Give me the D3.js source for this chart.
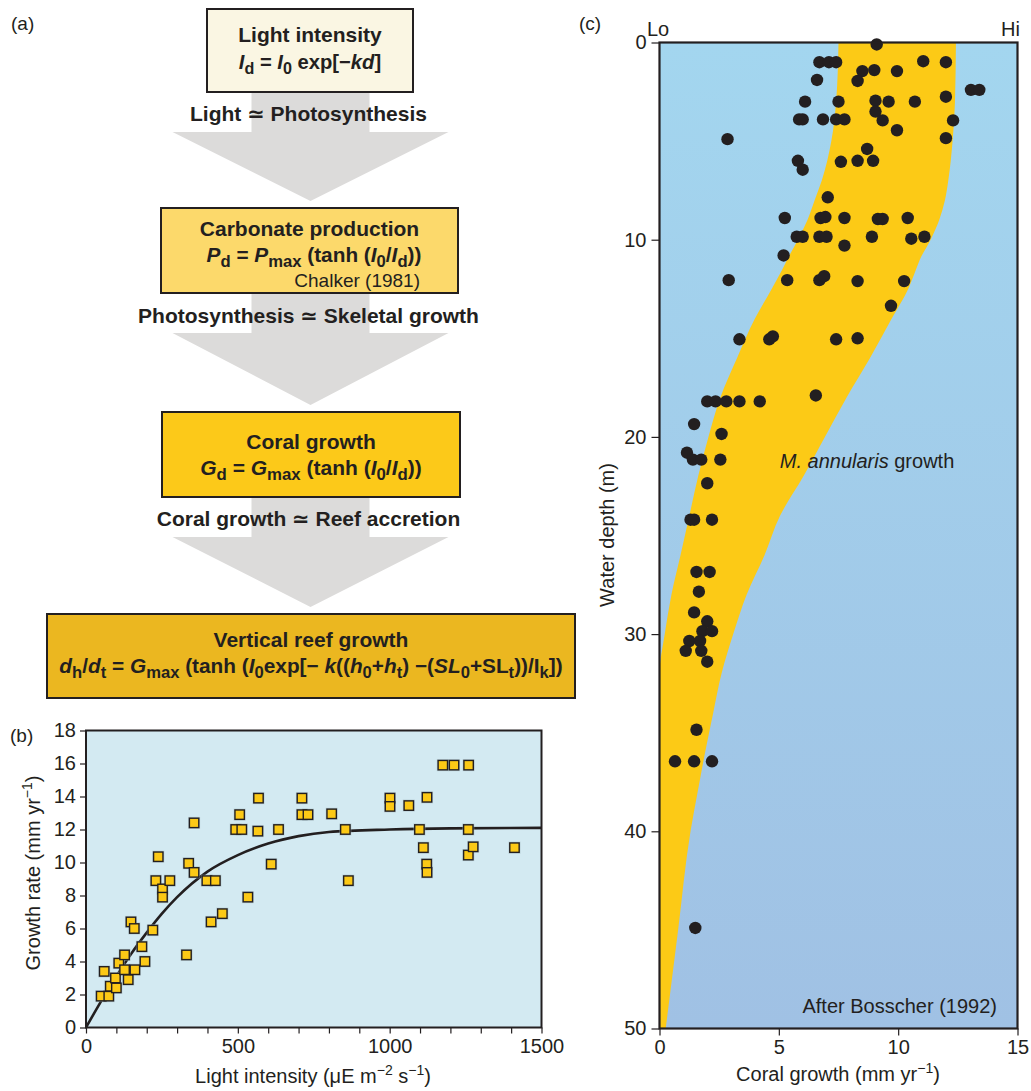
<!DOCTYPE html>
<html>
<head>
<meta charset="utf-8">
<script src="https://cdn.jsdelivr.net/npm/d3@7"></script>
<style>
  body { margin: 0; background: #fff; }
  svg { display: block; font-family: "Liberation Sans", Arial, "DejaVu Sans", sans-serif; }
  text { fill: #231f20; }
</style>
</head>
<body>
<script>
// ---------- (a) flow chart text ----------
const boxTitles   = ["Light intensity", "Carbonate production", "Coral growth", "Vertical reef growth"];
const boxFormulas = [
  "*I*_d_ = *I*_0_ exp[−*kd*]",
  "*P*_d_ = *P*_max_ (tanh (*I*_0_/*I*_d_))",
  "*G*_d_ = *G*_max_ (tanh (*I*_0_/*I*_d_))",
  "*d*_h_/*d*_t_ = *G*_max_ (tanh (*I*_0_exp[− *k*((*h*_0_+*h*_t_) −(*SL*_0_+SL_t_))/I_k_])"
];
const boxFills    = ["#faf6e3", "#fcd96b", "#fcc919", "#ebb720"];
const linkLabels  = ["Light ≃ Photosynthesis", "Photosynthesis ≃ Skeletal growth", "Coral growth ≃ Reef accretion"];
const citationA   = "Chalker (1981)";

// ---------- (b) growth rate vs light intensity ----------
const lightTicks = [0, 500, 1000, 1500];
const rateTicks  = [0, 2, 4, 6, 8, 10, 12, 14, 16, 18];
const obsLight = [50, 60, 75, 80, 100, 97, 108, 127, 127, 139, 148, 159, 161, 184, 194, 220, 230, 238, 252, 252,
                  276, 331, 338, 356, 356, 398, 426, 412, 449, 493, 513, 506, 533, 568, 566, 610, 634, 711, 711, 731,
                  809, 854, 864, 1001, 1001, 1063, 1098, 1111, 1123, 1122, 1123, 1175, 1212, 1260, 1259, 1259, 1275, 1411];
const obsRate  = [1.9, 3.4, 1.9, 2.5, 2.4, 3.0, 3.9, 4.4, 3.5, 2.9, 6.4, 6.0, 3.5, 4.9, 4.0, 5.9, 8.9, 10.35, 8.4, 7.9,
                  8.9, 4.4, 9.95, 12.4, 9.4, 8.9, 8.9, 6.4, 6.9, 12.0, 12.0, 12.9, 7.9, 13.9, 11.9, 9.9, 12.0, 13.9, 12.9, 12.9,
                  12.95, 12.0, 8.9, 13.9, 13.4, 13.45, 12.0, 10.9, 13.95, 9.9, 9.4, 15.9, 15.9, 15.9, 12.0, 10.45, 10.95, 10.9];
const fitLight = [0, 50, 100, 150, 200, 250, 300, 400, 500, 600, 700, 800, 1000, 1200, 1500];
const fitRate  = [0, 1.6, 3.1, 4.5, 5.75, 6.9, 7.9, 9.45, 10.45, 11.15, 11.6, 11.85, 12.0, 12.07, 12.1];

// ---------- (c) coral growth vs water depth ----------
const growthTicks = [0, 5, 10, 15];
const depthTicks  = [0, 10, 20, 30, 40, 50];
const bandDepth = [0, 3, 5, 7, 8, 9, 10, 11, 11.5, 12.5, 14, 16, 18, 20, 22, 24, 26, 28, 30, 32, 34, 36, 38, 40, 45, 50];
const bandLow   = [7.5, 7.4, 7.2, 6.8, 6.5, 6.2, 5.8, 5.35, 5.15, 4.7, 4.0, 3.25, 2.55, 2.05, 1.62, 1.25, 0.88, 0.5, 0.22, 0, 0, 0, 0, 0, 0, 0];
const bandHigh  = [12.42, 12.38, 12.28, 12.1, 11.96, 11.72, 11.36, 10.91, 10.75, 10.42, 9.73, 8.82, 7.84, 6.93, 6.03, 5.05, 4.4, 3.65, 3.09, 2.6, 2.25, 1.91, 1.6, 1.3, 0.78, 0.26];
const siteGrowth = [9.1, 6.7, 7.1, 7.4, 8.5, 9.0, 9.95, 11.05, 12.0, 6.6, 8.3, 13.05, 13.4,
                    6.1, 7.5, 9.05, 9.6, 10.7, 12.0, 9.05,
                    5.85, 6.0, 6.85, 7.4, 7.75, 9.35, 12.3, 9.95, 12.0, 2.85, 8.7,
                    5.8, 6.0, 7.6, 8.3, 8.95, 7.05,
                    5.25, 6.75, 6.95, 7.75, 9.15, 9.35, 10.4,
                    5.75, 6.0, 6.7, 7.0, 8.9, 10.55, 11.1, 7.75, 5.2,
                    2.9, 5.35, 6.7, 6.9, 8.3, 10.25, 9.7,
                    3.35, 4.6, 4.75, 7.4, 8.3,
                    2.0, 2.35, 2.8, 3.35, 4.2, 6.55,
                    1.45, 2.6, 1.15, 1.4, 1.75, 2.55, 2.0,
                    1.3, 1.45, 2.2, 1.55, 2.1, 1.65, 1.45, 2.0, 1.8, 2.2, 1.25, 1.7, 1.1, 1.75, 2.0,
                    1.55, 0.65, 1.45, 2.2, 1.5];
const siteDepth  = [0.1, 1.0, 1.0, 1.0, 1.45, 1.4, 1.45, 0.95, 1.0, 1.9, 1.95, 2.4, 2.4,
                    3.0, 3.0, 2.95, 3.0, 3.0, 2.75, 3.5,
                    3.9, 3.9, 3.9, 3.9, 3.9, 3.95, 3.95, 4.45, 4.85, 4.9, 5.4,
                    6.0, 6.45, 6.05, 6.0, 6.0, 7.85,
                    8.9, 8.9, 8.85, 8.9, 8.95, 8.95, 8.9,
                    9.85, 9.85, 9.85, 9.85, 9.85, 9.95, 9.85, 10.3, 10.8,
                    12.05, 12.05, 12.05, 11.85, 12.1, 12.1, 13.35,
                    15.05, 15.05, 14.9, 15.05, 15.0,
                    18.2, 18.2, 18.2, 18.2, 18.2, 17.9,
                    19.35, 19.85, 20.8, 21.15, 21.15, 21.15, 22.35,
                    24.2, 24.2, 24.2, 26.85, 26.85, 27.85, 28.9, 29.35, 29.85, 29.85, 30.35, 30.35, 30.85, 30.85, 31.4,
                    34.85, 36.45, 36.45, 36.45, 44.9];

const INK = "#231f20";
const svg = d3.select("body").append("svg").attr("width", 1031).attr("height", 1091);

// Writes a string with light markup: *italic*, _subscript_, ^superscript^
function rich(textSel, markup, fs, subScale = 0.7) {
  let italic = false, sub = false, sup = false, shift = 0, buf = "";
  const flush = () => {
    if (!buf) return;
    const target = sub ? fs * 0.26 : sup ? -fs * 0.4 : 0;
    textSel.append("tspan")
      .attr("dy", target - shift)
      .style("font-style", italic ? "italic" : "normal")
      .style("font-size", sub ? (fs * subScale) + "px" : sup ? (fs * 0.7) + "px" : fs + "px")
      .text(buf);
    shift = target; buf = "";
  };
  for (const ch of markup) {
    if (ch === "*") { flush(); italic = !italic; }
    else if (ch === "_") { flush(); sub = !sub; }
    else if (ch === "^") { flush(); sup = !sup; }
    else buf += ch;
  }
  flush();
  return textSel;
}

// ================= (a) flow chart =================
const gA = svg.append("g");
const boxes = [
  { x0: 207, x1: 413, y0: 9,   y1: 92,  lines: [34, 61], fs: 20.2 },
  { x0: 161, x1: 458, y0: 208, y1: 293, lines: [228, 254], fs: 20.8 },
  { x0: 162, x1: 460, y0: 412, y1: 497, lines: [441, 467], fs: 21 },
  { x0: 47,  x1: 575, y0: 614, y1: 698, lines: [639, 665], fs: 20.8 }
];
const cxA = 310.5;
const linkY = [113, 315, 518];

// broad grey arrows between the boxes
for (let i = 0; i < 3; i++) {
  const top = boxes[i].y1, neck = top + 40, tip = boxes[i + 1].y0 - 7;
  const sw = 59, hw = 138;
  gA.append("path")
    .attr("d", `M${cxA - sw},${top}L${cxA + sw},${top}L${cxA + sw},${neck}L${cxA + hw},${neck}L${cxA},${tip}L${cxA - hw},${neck}L${cxA - sw},${neck}Z`)
    .attr("fill", "#dcdbda");
}

boxes.forEach((b, i) => {
  gA.append("rect")
    .attr("x", b.x0).attr("y", b.y0).attr("width", b.x1 - b.x0).attr("height", b.y1 - b.y0)
    .attr("fill", boxFills[i]).attr("stroke", INK).attr("stroke-width", 2);
  gA.append("text").attr("x", (b.x0 + b.x1) / 2).attr("y", b.lines[0] + 7.5)
    .attr("text-anchor", "middle").style("font-weight", "bold").style("font-size", "21px")
    .text(boxTitles[i]);
  const fx = i === 1 ? 314 : (b.x0 + b.x1) / 2;
  rich(gA.append("text").attr("x", fx).attr("y", b.lines[1] + 7.5)
    .attr("text-anchor", "middle").style("font-weight", "bold"), boxFormulas[i], b.fs, 0.8);
});
gA.append("text").attr("x", 420).attr("y", 287).attr("text-anchor", "end")
  .style("font-size", "19px").text(citationA);

linkLabels.forEach((t, i) => {
  gA.append("text").attr("x", cxA - 2).attr("y", linkY[i] + 7.5).attr("text-anchor", "middle")
    .style("font-weight", "bold").style("font-size", "21px").text(t);
});
gA.append("text").attr("x", 11).attr("y", 30).style("font-size", "19px").text("(a)");

// ================= (b) growth rate vs light =================
const gB = svg.append("g");
const bx = d3.scaleLinear().domain([0, 1500]).range([86, 541.5]);
const by = d3.scaleLinear().domain([0, 18]).range([1027.5, 730.5]);

gB.append("rect").attr("x", bx(0)).attr("y", by(18)).attr("width", bx(1500) - bx(0)).attr("height", by(0) - by(18))
  .attr("fill", "#d3eaf2");

const fitLine = d3.line().x(d => bx(d[0])).y(d => by(d[1])).curve(d3.curveMonotoneX);
gB.append("path").datum(fitLight.map((v, i) => [v, fitRate[i]]))
  .attr("d", fitLine).attr("fill", "none").attr("stroke", INK).attr("stroke-width", 2.6);

const obs = obsLight.map((v, i) => [v, obsRate[i]]);
gB.selectAll("rect.halo").data(obs).join("rect").attr("class", "halo")
  .attr("x", d => bx(d[0]) - 6).attr("y", d => by(d[1]) - 6).attr("width", 12).attr("height", 12)
  .attr("fill", "#9fb4bb").attr("opacity", 0.55);
gB.selectAll("rect.obs").data(obs).join("rect").attr("class", "obs")
  .attr("x", d => bx(d[0]) - 4.7).attr("y", d => by(d[1]) - 4.7).attr("width", 9.4).attr("height", 9.4)
  .attr("fill", "#fcc916").attr("stroke", INK).attr("stroke-width", 1.4);

function styleAxis(g, fs) {
  g.select(".domain").remove();
  g.selectAll(".tick line").attr("stroke", INK).attr("stroke-width", 1.2);
  g.selectAll(".tick text").attr("fill", INK).style("font-size", fs + "px").style("font-family", null);
}
const bxAxis = gB.append("g").attr("transform", `translate(0,${by(0)})`)
  .call(d3.axisBottom(bx).tickValues(d3.range(0, 1501, 100)).tickSize(6).tickPadding(5)
    .tickFormat(d => lightTicks.includes(d) ? d : ""));
styleAxis(bxAxis, 20);
const byAxis = gB.append("g").attr("transform", `translate(${bx(0)},0)`)
  .call(d3.axisLeft(by).tickValues(rateTicks).tickSize(6).tickPadding(4));
styleAxis(byAxis, 20);

gB.append("rect").attr("x", bx(0)).attr("y", by(18)).attr("width", bx(1500) - bx(0)).attr("height", by(0) - by(18))
  .attr("fill", "none").attr("stroke", INK).attr("stroke-width", 2);

rich(gB.append("text").attr("x", 313).attr("y", 1083).attr("text-anchor", "middle"),
  "Light intensity (μE m^−2^ s^−1^)", 20);
rich(gB.append("text").attr("transform", "translate(40,873) rotate(-90)").attr("text-anchor", "middle"),
  "Growth rate (mm yr^−1^)", 20);
gB.append("text").attr("x", 10).attr("y", 742).style("font-size", "19px").text("(b)");

// ================= (c) coral growth vs depth =================
const gC = svg.append("g");
const cx = d3.scaleLinear().domain([0, 15]).range([659.5, 1017.5]);
const cy = d3.scaleLinear().domain([0, 50]).range([42.5, 1028.5]);

const grad = svg.append("defs").append("linearGradient").attr("id", "water")
  .attr("x1", 0).attr("y1", 0).attr("x2", 0).attr("y2", 1);
grad.append("stop").attr("offset", 0).attr("stop-color", "#a3d6ef");
grad.append("stop").attr("offset", 1).attr("stop-color", "#a0c1e4");

gC.append("rect").attr("x", cx(0)).attr("y", cy(0)).attr("width", cx(15) - cx(0)).attr("height", cy(50) - cy(0))
  .attr("fill", "url(#water)");

const band = d3.area()
  .y(d => cy(d[0])).x0(d => cx(d[1])).x1(d => cx(d[2]))
  .curve(d3.curveMonotoneY);
gC.append("path").datum(bandDepth.map((d, i) => [d, bandLow[i], bandHigh[i]]))
  .attr("d", band).attr("fill", "#fcca16");

gC.selectAll("circle").data(siteGrowth.map((g, i) => [g, siteDepth[i]])).join("circle")
  .attr("cx", d => cx(d[0])).attr("cy", d => cy(d[1])).attr("r", 6.2).attr("fill", INK);

gC.append("rect").attr("x", cx(0)).attr("y", cy(0)).attr("width", cx(15) - cx(0)).attr("height", cy(50) - cy(0))
  .attr("fill", "none").attr("stroke", INK).attr("stroke-width", 2.2);

const cxAxis = gC.append("g").attr("transform", `translate(0,${cy(50)})`)
  .call(d3.axisBottom(cx).tickValues(growthTicks).tickSize(7).tickPadding(4));
styleAxis(cxAxis, 20);
const cyAxis = gC.append("g").attr("transform", `translate(${cx(0)},0)`)
  .call(d3.axisLeft(cy).tickValues(depthTicks).tickSize(8).tickPadding(5));
styleAxis(cyAxis, 20);

rich(gC.append("text").attr("x", 838).attr("y", 1081).attr("text-anchor", "middle"),
  "Coral growth (mm yr^−1^)", 20);
gC.append("text").attr("transform", "translate(614,535) rotate(-90)").attr("text-anchor", "middle")
  .style("font-size", "20px").text("Water depth (m)");
rich(gC.append("text").attr("x", 867).attr("y", 468).attr("text-anchor", "middle"),
  "*M. annularis* growth", 20);
gC.append("text").attr("x", 997).attr("y", 1013).attr("text-anchor", "end")
  .style("font-size", "20px").text("After Bosscher (1992)");
gC.append("text").attr("x", 647).attr("y", 36).style("font-size", "20px").text("Lo");
gC.append("text").attr("x", 1020).attr("y", 36).attr("text-anchor", "end").style("font-size", "20px").text("Hi");
gC.append("text").attr("x", 579).attr("y", 30).style("font-size", "19px").text("(c)");
</script>
</body>
</html>
